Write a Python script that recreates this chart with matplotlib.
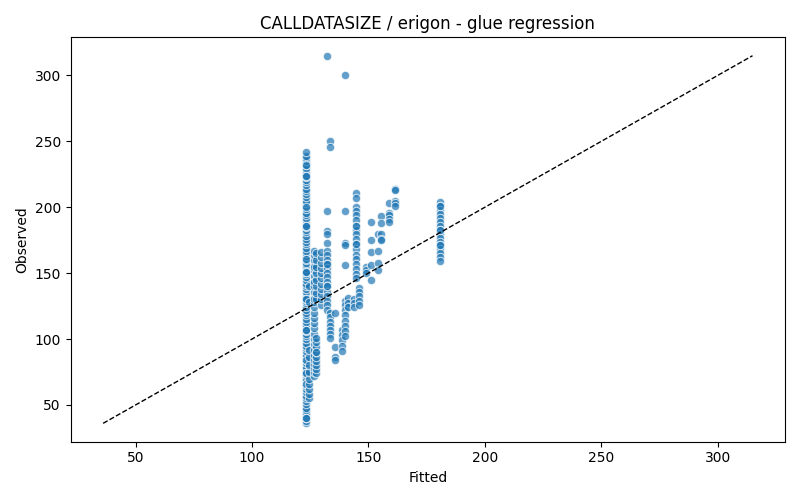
import numpy as np
import matplotlib
matplotlib.use("Agg")
from matplotlib import pyplot as plt

fitted_levels = [123.2, 124.6, 126.6, 127.6, 129.8, 132.3, 133.4, 135.8, 138.8, 139.8,
                 141.2, 143.6, 144.8, 146.0, 149.0, 151.3, 153.9, 155.5, 158.8, 161.6, 180.9]

obs_123 = [36, 38, 40, 42, 44, 46, 48, 51, 53, 55, 57, 60, 62, 64, 66, 68, 70, 73, 75, 77,
           79, 82, 84, 86, 88, 91, 93, 95, 97, 100, 102, 104, 106, 109, 111, 113, 115, 118,
           120, 122, 124, 127, 129, 131, 133, 136, 138, 140, 142, 145, 147, 149, 151, 154,
           156, 158, 160, 163, 165, 167, 169, 172, 174, 176, 178, 181, 183, 185, 187, 190,
           192, 194, 196, 199, 201, 203, 205, 208, 210, 212, 214, 217, 219, 221, 223, 226,
           228, 230, 232, 235, 237, 239, 242,
           # repeated values, darker spots in the column
           40, 40, 66, 74, 74, 84, 107, 107, 130, 130, 151, 151, 161, 186, 186, 200,
           224, 224, 232]
obs_124 = [55, 58, 62, 66, 70, 75, 80, 86, 92, 128, 140]
obs_126 = [72, 75, 78, 81, 84, 88, 92, 96, 100, 104, 108, 112, 116, 120, 124, 128, 132,
           136, 140, 144, 148, 152, 156, 160, 164, 167, 155, 143, 130]
obs_127 = [74, 77, 80, 83, 86, 90, 94, 98, 101, 130, 135, 140, 145, 150, 155, 160, 165, 90]
obs_129 = [126, 130, 134, 138, 142, 146, 150, 154, 158, 162, 166]
obs_132 = [315, 197, 182, 180, 173, 167, 164, 160, 157, 154, 150, 147, 143, 140, 136, 133,
           129, 126, 122, 157, 140]
obs_133 = [250, 246, 120, 117, 113, 110, 107, 104, 101]
obs_135 = [120, 94, 86, 84]
obs_138 = [107, 103, 99, 95, 91]
obs_139 = [300, 197, 173, 171, 156, 129, 126, 122, 118, 114, 110, 106, 102]
obs_141 = [131, 127, 124]
obs_143 = [130, 127, 124]
obs_144 = [211, 207, 200, 197, 194, 190, 186, 183, 180, 176, 172, 168, 164, 161, 157, 153,
           149, 146, 186, 172]
obs_146 = [139, 136, 133, 129, 126]
obs_149 = [155, 152, 150]
obs_151 = [189, 175, 166, 156, 145]
obs_153 = [180, 167, 158, 152]
obs_155 = [193, 188, 180, 176, 175]
obs_158 = [203, 196, 194, 191, 189]
obs_161 = [214, 213, 205, 203, 201]
obs_180 = [204, 201, 198, 195, 192, 189, 186, 183, 180, 177, 174, 171, 168, 165, 162, 159,
           201, 183, 171]

groups = [obs_123, obs_124, obs_126, obs_127, obs_129, obs_132, obs_133, obs_135, obs_138,
          obs_139, obs_141, obs_143, obs_144, obs_146, obs_149, obs_151, obs_153, obs_155,
          obs_158, obs_161, obs_180]

fitted = []
observed = []
for lvl, vals in zip(fitted_levels, groups):
    fitted += [lvl] * len(vals)
    observed += vals

fig, ax = plt.subplots(figsize=(8, 5), dpi=100)
ax.scatter(fitted, observed, s=36, color="#1f77b4", alpha=0.7,
           edgecolors="white", linewidths=0.75)

lo = min(observed)
hi = max(observed)
ax.plot([lo, hi], [lo, hi], "k--", lw=1)

ax.set_xlabel("Fitted")
ax.set_ylabel("Observed")
ax.set_title("CALLDATASIZE / erigon - glue regression")
fig.tight_layout()
fig.savefig("out.png")
